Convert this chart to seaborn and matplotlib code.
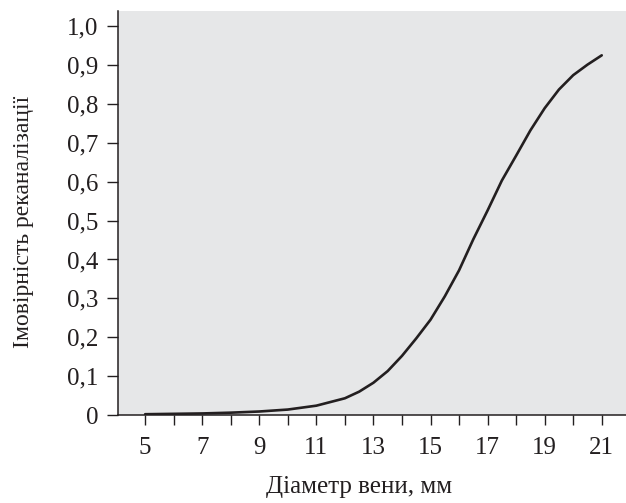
import matplotlib
matplotlib.use("Agg")
import matplotlib.pyplot as plt
import seaborn as sns
import pandas as pd

diameter_mm = [5, 6, 7, 8, 9, 10, 11, 12, 12.5, 13, 13.5, 14, 14.5, 15, 15.5,
               16, 16.5, 17, 17.5, 18, 18.5, 19, 19.5, 20, 20.5, 21]
probability = [0.002, 0.003, 0.004, 0.006, 0.009, 0.014, 0.024, 0.043, 0.060,
               0.083, 0.113, 0.152, 0.197, 0.245, 0.305, 0.372, 0.452, 0.526,
               0.603, 0.667, 0.732, 0.789, 0.837, 0.874, 0.901, 0.925]
x_ticks = [5, 6, 7, 8, 9, 10, 11, 12, 13, 14, 15, 16, 17, 18, 19, 20, 21]
x_tick_labels = ["5", "", "7", "", "9", "", "11", "", "13", "", "15", "", "17", "", "19", "", "21"]
y_ticks = [0.0, 0.1, 0.2, 0.3, 0.4, 0.5, 0.6, 0.7, 0.8, 0.9, 1.0]
y_tick_labels = ["0", "0,1", "0,2", "0,3", "0,4", "0,5", "0,6", "0,7", "0,8", "0,9", "1,0"]
x_label = "Діаметр вени, мм"
y_label = "Імовірність реканалізації"

sns.set_style("ticks")
plt.rcParams["font.family"] = ["Liberation Serif", "DejaVu Serif"]

ink = "#231f20"
df = pd.DataFrame({"d": diameter_mm, "p": probability})

fig = plt.figure(figsize=(6.26, 5.03), dpi=100)
ax = fig.add_axes([118 / 626, 88 / 503, 1 - 118 / 626, (415 - 11) / 503])
ax.set_facecolor("#e6e7e8")

sns.lineplot(data=df, x="d", y="p", ax=ax, color=ink, linewidth=1.9)

ax.set_xlim(4.05, 21.85)
ax.set_ylim(0, 1.039)
ax.set_xticks(x_ticks)
ax.set_xticklabels(x_tick_labels)
ax.set_yticks(y_ticks)
ax.set_yticklabels(y_tick_labels)

for s in ["top", "right"]:
    ax.spines[s].set_visible(False)
for s in ["left", "bottom"]:
    ax.spines[s].set_color(ink)
    ax.spines[s].set_linewidth(1.1)

ax.tick_params(axis="x", direction="out", length=7.5, width=1.0, color=ink,
               labelsize=18, labelcolor=ink, pad=8)
ax.tick_params(axis="y", direction="out", length=8, width=1.0, color=ink,
               labelsize=18, labelcolor=ink, pad=6)

ax.set_xlabel(x_label, fontsize=18, color=ink)
ax.set_ylabel(y_label, fontsize=17, color=ink)
ax.xaxis.set_label_coords((359 - 118) / 508, (415 - 476) / 404)
ax.yaxis.set_label_coords((34 - 118) / 508, (415 - 222) / 404)

fig.savefig("out.png", dpi=100)
